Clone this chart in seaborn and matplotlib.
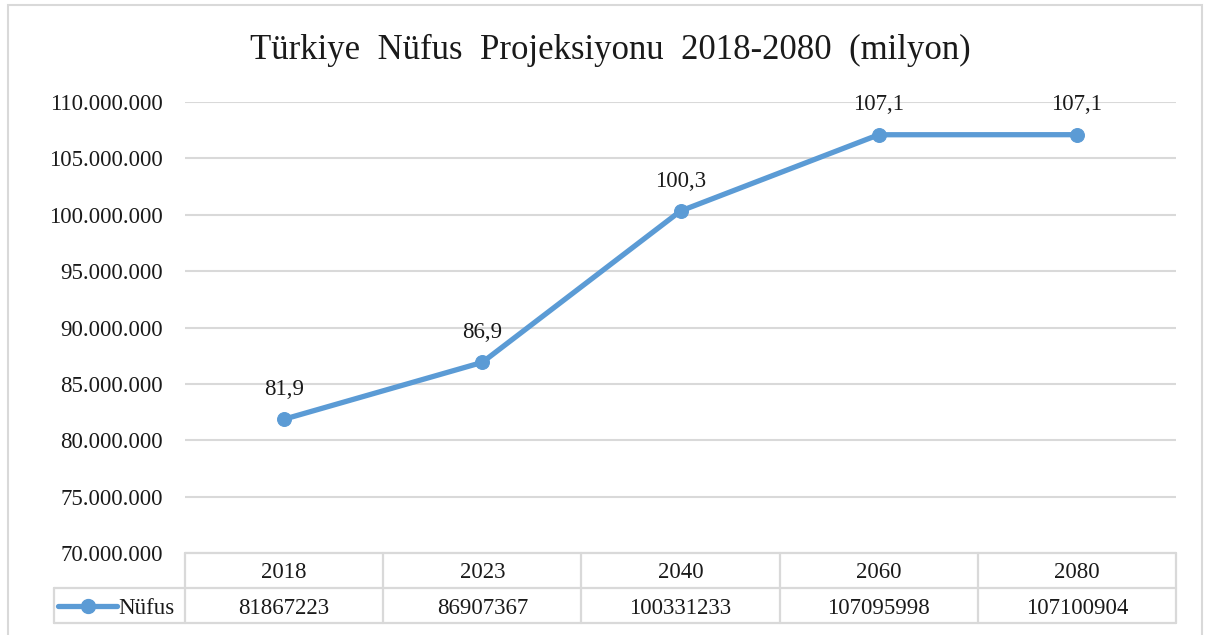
import matplotlib
matplotlib.use("Agg")
import matplotlib.pyplot as plt
from matplotlib.ticker import FuncFormatter, MultipleLocator
from matplotlib.patches import Rectangle
from matplotlib.lines import Line2D
import seaborn as sns
import pandas as pd

years = ["2018", "2023", "2040", "2060", "2080"]
nufus = [81867223, 86907367, 100331233, 107095998, 107100904]
series_name = "Nüfus"
title = "Türkiye  Nüfus  Projeksiyonu  2018-2080  (milyon)"

df = pd.DataFrame({"pos": range(len(years)), "year": years, "nufus": nufus})

sns.set_style("white")
plt.rcParams["font.family"] = ["Liberation Serif", "DejaVu Serif"]

blue = "#5B9BD5"
grid_c = "#D9D9D9"
txt_c = "#1a1a1a"
fs = 16.5

fig = plt.figure(figsize=(12.08, 6.35), dpi=100)
ax = fig.add_axes([185 / 1208, 82 / 635, 991 / 1208, 451 / 635])

# chart frame
fig.patches.append(Rectangle((8 / 1208, -0.05), 1194 / 1208, 1.05 - 5 / 635,
                             transform=fig.transFigure, fill=False,
                             edgecolor=grid_c, linewidth=1.5))

sns.lineplot(data=df, x="pos", y="nufus", ax=ax, color=blue, linewidth=3.8,
             marker="o", markersize=10, markeredgecolor=blue, clip_on=False,
             zorder=5)

for p, v in zip(df["pos"], df["nufus"]):
    lbl = f"{v / 1e6:.1f}".replace(".", ",")
    ax.annotate(lbl, (p, v), xytext=(0, 14), textcoords="offset points",
                ha="center", va="bottom", fontsize=fs, color=txt_c)

ax.set_xlim(-0.5, len(years) - 0.5)
ax.set_ylim(70_000_000, 110_000_000)
ax.yaxis.set_major_locator(MultipleLocator(5_000_000))
ax.yaxis.set_major_formatter(FuncFormatter(lambda v, _: f"{int(v):,}".replace(",", ".")))
ax.set_xticks([])
ax.set_xlabel("")
ax.set_ylabel("")
ax.tick_params(axis="y", length=0, pad=16, labelsize=fs, labelcolor=txt_c)
ax.yaxis.grid(True, color=grid_c, linewidth=1.5)
ax.set_axisbelow(True)
for s in ax.spines.values():
    s.set_visible(False)

fig.text(0.505, 1 - 50 / 635, title, ha="center", va="center", fontsize=25,
         color=txt_c)

# data table below the axis
n = len(years)
rh = 35 / 451
left_cell = -131 / 991
kw = dict(transform=ax.transAxes, color=grid_c, linewidth=1.6, clip_on=False)
ax.plot([0, 1], [0, 0], **kw)
ax.plot([left_cell, 1], [-rh, -rh], **kw)
ax.plot([left_cell, 1], [-2 * rh, -2 * rh], **kw)
ax.plot([left_cell, left_cell], [-rh, -2 * rh], **kw)
for i in range(n + 1):
    ax.plot([i / n, i / n], [0, -2 * rh], **kw)
for i, (yr, v) in enumerate(zip(years, nufus)):
    xc = (i + 0.5) / n
    ax.text(xc, -0.5 * rh, yr, transform=ax.transAxes, ha="center",
            va="center_baseline", fontsize=fs, color=txt_c)
    ax.text(xc, -1.5 * rh, str(v), transform=ax.transAxes, ha="center",
            va="center_baseline", fontsize=fs, color=txt_c)

# legend key in the table
ax.add_line(Line2D([left_cell + 0.004, left_cell + 0.064], [-1.5 * rh, -1.5 * rh],
                   transform=ax.transAxes, color=blue, linewidth=3.8,
                   clip_on=False))
ax.add_line(Line2D([left_cell + 0.034], [-1.5 * rh], transform=ax.transAxes,
                   color=blue, marker="o", markersize=10, clip_on=False))
ax.text(left_cell + 0.065, -1.5 * rh, series_name, transform=ax.transAxes,
        ha="left", va="center_baseline", fontsize=fs, color=txt_c)

fig.savefig("out.png", dpi=100, facecolor="white")
